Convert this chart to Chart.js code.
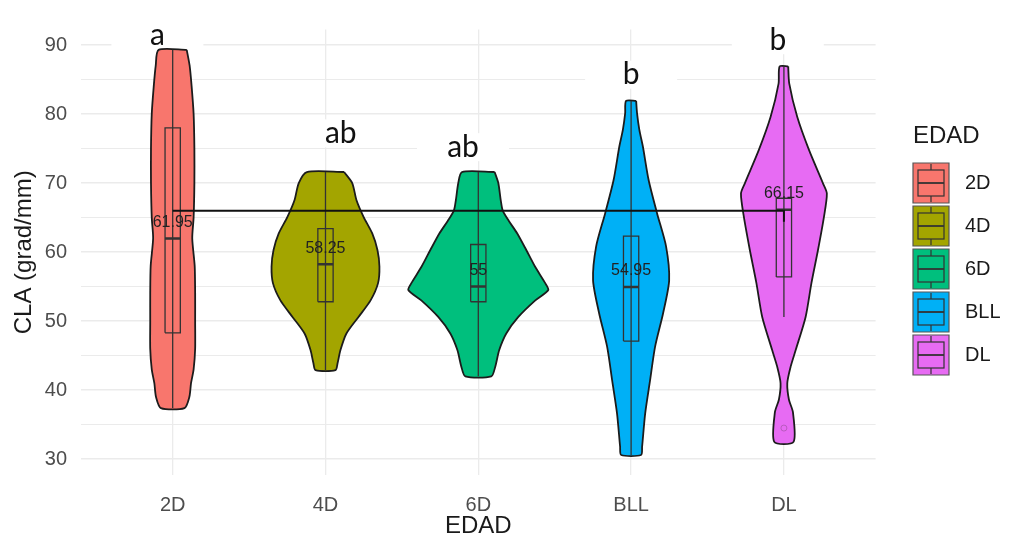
<!DOCTYPE html>
<html>
<head>
<meta charset="utf-8">
<script src="https://cdn.jsdelivr.net/npm/chart.js@4.4.1/dist/chart.umd.min.js"></script>
<style>
  html, body { margin: 0; padding: 0; background: #ffffff; }
  #wrap { width: 1010px; height: 545px; }
</style>
</head>
<body>
<div id="wrap"><canvas id="chart" width="1010" height="545"></canvas></div>
<script>
// groups and colours (ggplot default hues)
const categories = ["2D", "4D", "6D", "BLL", "DL"];
const fillColors = ["#F8766D", "#A3A500", "#00BF7D", "#00B0F6", "#E76BF3"];

// boxplot stats
const whiskerLow = [37.4, 42.9, 42.0, 30.6, 50.6];
const q1 = [48.3, 52.8, 52.8, 47.1, 56.4];
const medians = [61.95, 58.25, 55, 54.95, 66.15];
const q3 = [78.0, 63.4, 61.1, 62.3, 67.8];
const whiskerHigh = [89.3, 71.6, 71.6, 81.9, 86.9];
const medianLabels = ["61.95", "58.25", "55", "54.95", "66.15"];

// violin outlines: [value, half width as share of category spacing]
const violin2D = [[89.3, 0.092], [87, 0.111], [84, 0.124], [80, 0.137], [75, 0.142], [70, 0.142], [65, 0.137], [62, 0.128], [58, 0.144], [54, 0.147], [50, 0.147], [46, 0.147], [43, 0.137], [41, 0.12], [39, 0.109], [37.4, 0.077]];
const violin4D = [[71.6, 0.122], [70.0, 0.175], [67.5, 0.203], [65.1, 0.249], [62.7, 0.306], [60.3, 0.34], [57.9, 0.353], [55.5, 0.344], [53.0, 0.295], [50.6, 0.216], [48.2, 0.137], [45.8, 0.098], [43.9, 0.079], [42.9, 0.065]];
const violin6D = [[71.6, 0.107], [70.0, 0.131], [67.5, 0.147], [66.0, 0.16], [64.5, 0.2], [62.7, 0.255], [60.3, 0.314], [57.9, 0.371], [55.5, 0.438], [54.5, 0.458], [53.0, 0.373], [50.6, 0.262], [48.2, 0.183], [45.8, 0.137], [43.4, 0.111], [42.0, 0.085]];
const violinBLL = [[81.9, 0.033], [80.1, 0.039], [77.7, 0.054], [75.3, 0.077], [70.4, 0.115], [65.6, 0.17], [60.8, 0.229], [55.9, 0.249], [51.1, 0.209], [46.3, 0.157], [41.4, 0.124], [36.6, 0.092], [31.8, 0.072], [30.6, 0.065]];
const violinDL = [[86.9, 0.028], [84.4, 0.035], [79.6, 0.087], [74.8, 0.164], [70.0, 0.255], [68.5, 0.281], [65.1, 0.262], [60.3, 0.223], [55.5, 0.18], [50.6, 0.142], [45.8, 0.077], [43.4, 0.044], [41.0, 0.022], [38.6, 0.033], [36.8, 0.059], [32.5, 0.063]];
const profiles = [violin2D, violin4D, violin6D, violinBLL, violinDL];

// outlier and the horizontal reference line
const outlierX = [5];
const outlierY = [34.5];
const refLineX = [1, 5, 5];
const refLineY = [66.0, 66.0, 64.4];

// significance letters
const letters = ["a", "ab", "ab", "b", "b"];
const letterX = [0.9, 2.1, 2.9, 4.0, 4.96];
const letterY = [91.45, 77.2, 75.2, 85.7, 90.7];

// axis ticks
const yGridValues = [30, 35, 40, 45, 50, 55, 60, 65, 70, 75, 80, 85, 90];
const yTickLabels = [30, 40, 50, 60, 70, 80, 90];

const BOX_HALF = 0.05;
const FONT = "'Liberation Sans', Arial, sans-serif";

const datasets = [];

profiles.forEach(function (profile, i) {
  const pos = i + 1;
  const right = profile.map((p) => ({ x: pos + p[1], y: p[0] }));
  const left = profile.slice().reverse().map((p) => ({ x: pos - p[1], y: p[0] }));
  const outline = right.concat(left);
  outline.push(outline[0]);

  // violin
  datasets.push({
    label: categories[i],
    data: outline,
    showLine: true,
    fill: "shape",
    backgroundColor: fillColors[i],
    borderColor: "#1c1c1c",
    borderWidth: 1.8,
    pointRadius: 0,
    tension: 0.25,
    order: 3,
  });

  // whisker
  datasets.push({
    data: [{ x: pos, y: whiskerLow[i] }, { x: pos, y: whiskerHigh[i] }],
    showLine: true,
    borderColor: "#333333",
    borderWidth: 1.3,
    pointRadius: 0,
    order: 2,
  });

  // box
  datasets.push({
    data: [
      { x: pos - BOX_HALF, y: q1[i] },
      { x: pos + BOX_HALF, y: q1[i] },
      { x: pos + BOX_HALF, y: q3[i] },
      { x: pos - BOX_HALF, y: q3[i] },
      { x: pos - BOX_HALF, y: q1[i] },
    ],
    showLine: true,
    fill: false,
    borderColor: "#333333",
    borderWidth: 1.3,
    pointRadius: 0,
    order: 2,
  });

  // median
  datasets.push({
    data: [{ x: pos - BOX_HALF, y: medians[i] }, { x: pos + BOX_HALF, y: medians[i] }],
    showLine: true,
    borderColor: "#333333",
    borderWidth: 2.5,
    pointRadius: 0,
    order: 1,
  });
});

datasets.push({
  data: refLineX.map((x, k) => ({ x: x, y: refLineY[k] })),
  showLine: true,
  borderColor: "#111111",
  borderWidth: 2,
  pointRadius: 0,
  order: 0,
});

datasets.push({
  data: outlierX.map((x, k) => ({ x: x, y: outlierY[k] })),
  showLine: false,
  pointRadius: 3,
  pointBackgroundColor: "rgba(0,0,0,0)",
  pointBorderColor: "rgba(130,70,130,0.45)",
  pointBorderWidth: 1,
  order: 0,
});

// labels, letters and legend
const extrasPlugin = {
  id: "extras",
  beforeDatasetsDraw(chart) {
    const ctx = chart.ctx;
    const xs = chart.scales.x;
    const ys = chart.scales.y;
    ctx.save();
    ctx.fillStyle = "#ffffff";
    letters.forEach(function (t, i) {
      const px = xs.getPixelForValue(letterX[i]);
      const py = ys.getPixelForValue(letterY[i]);
      ctx.fillRect(px - 46, py - 14, 92, 28);
    });
    ctx.restore();
  },
  afterDatasetsDraw(chart) {
    const ctx = chart.ctx;
    const xs = chart.scales.x;
    const ys = chart.scales.y;
    ctx.save();

    // median values
    ctx.font = "16px " + FONT;
    ctx.fillStyle = "#222222";
    ctx.textAlign = "center";
    ctx.textBaseline = "middle";
    medianLabels.forEach(function (t, i) {
      ctx.fillText(t, xs.getPixelForValue(i + 1), ys.getPixelForValue(medians[i]) - 16);
    });

    // letters
    ctx.font = "30px Lato, 'Open Sans', sans-serif";
    ctx.fillStyle = "#111111";
    letters.forEach(function (t, i) {
      ctx.fillText(t, xs.getPixelForValue(letterX[i]), ys.getPixelForValue(letterY[i]));
    });

    // legend
    const lx = 913;
    const ly = 163;
    const kw = 36;
    const kh = 40;
    const step = 43;
    ctx.textAlign = "left";
    ctx.fillStyle = "#1a1a1a";
    ctx.font = "24px " + FONT;
    ctx.fillText("EDAD", lx, 136);
    categories.forEach(function (c, i) {
      const top = ly + i * step;
      ctx.fillStyle = fillColors[i];
      ctx.strokeStyle = "#555555";
      ctx.lineWidth = 1.2;
      ctx.beginPath();
      ctx.rect(lx, top, kw, kh);
      ctx.fill();
      ctx.stroke();
      ctx.strokeStyle = "#333333";
      ctx.strokeRect(lx + 5, top + 7, kw - 10, kh - 14);
      ctx.beginPath();
      ctx.moveTo(lx + kw / 2, top + 1);
      ctx.lineTo(lx + kw / 2, top + 7);
      ctx.moveTo(lx + kw / 2, top + kh - 7);
      ctx.lineTo(lx + kw / 2, top + kh - 1);
      ctx.stroke();
      ctx.lineWidth = 1.8;
      ctx.beginPath();
      ctx.moveTo(lx + 5, top + kh / 2);
      ctx.lineTo(lx + kw - 5, top + kh / 2);
      ctx.stroke();
      ctx.fillStyle = "#1a1a1a";
      ctx.font = "20px " + FONT;
      ctx.fillText(c, lx + 52, top + kh / 2);
    });
    ctx.restore();
  },
};

new Chart(document.getElementById("chart"), {
  type: "scatter",
  data: { datasets: datasets },
  options: {
    responsive: false,
    animation: false,
    layout: { padding: { top: 29.5, right: 134.4, bottom: 0, left: 0 } },
    plugins: {
      legend: { display: false },
      tooltip: { enabled: false },
    },
    scales: {
      x: {
        type: "linear",
        min: 0.4,
        max: 5.6,
        afterBuildTicks: (axis) => {
          axis.ticks = categories.map((c, i) => ({ value: i + 1 }));
        },
        afterFit: (axis) => {
          axis.height = 70;
        },
        border: { display: false },
        grid: { color: "#ebebeb", lineWidth: 1.3, drawTicks: false },
        ticks: {
          padding: 18,
          color: "#4d4d4d",
          font: { family: FONT, size: 20 },
          callback: (v) => categories[Math.round(v) - 1],
        },
        title: {
          display: true,
          text: "EDAD",
          color: "#1a1a1a",
          font: { family: FONT, size: 24 },
          padding: { top: 0, bottom: 4 },
        },
      },
      y: {
        type: "linear",
        min: 27.7,
        max: 92.25,
        afterBuildTicks: (axis) => {
          axis.ticks = yGridValues.map((v) => ({ value: v }));
        },
        afterFit: (axis) => {
          axis.width = 81;
        },
        border: { display: false },
        grid: {
          color: "#ebebeb",
          lineWidth: (c) => (c.tick && c.tick.value % 10 === 0 ? 1.5 : 1),
          drawTicks: false,
        },
        ticks: {
          padding: 14,
          color: "#4d4d4d",
          font: { family: FONT, size: 20 },
          callback: (v) => (yTickLabels.indexOf(v) >= 0 ? v : ""),
        },
        title: {
          display: true,
          text: "CLA (grad/mm)",
          color: "#1a1a1a",
          font: { family: FONT, size: 24 },
          padding: { top: 10, bottom: 0 },
        },
      },
    },
  },
  plugins: [extrasPlugin],
});
</script>
</body>
</html>
